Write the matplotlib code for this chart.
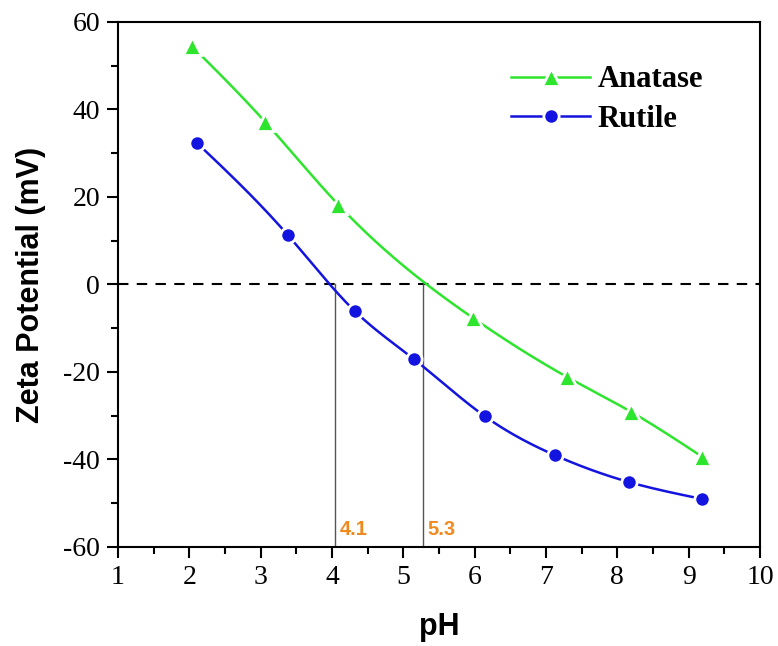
import numpy as np
import matplotlib.pyplot as plt
from matplotlib.ticker import MultipleLocator

plt.rcParams['axes.unicode_minus'] = False

# data
ph_anatase = [2.04, 3.06, 4.09, 5.98, 7.29, 8.19, 9.19]
zeta_anatase = [54.4, 37.2, 18.2, -7.7, -21.1, -29.1, -39.4]
ph_rutile = [2.11, 3.38, 4.32, 5.15, 6.14, 7.12, 8.17, 9.18]
zeta_rutile = [32.3, 11.3, -6.1, -17.1, -30.1, -39.0, -45.2, -49.0]
iep_values = [4.1, 5.3]
iep_lines = [4.04, 5.27]


def smooth(x, y, n=300):
    # natural cubic spline through the measured points
    x = np.asarray(x, float)
    y = np.asarray(y, float)
    k = len(x)
    h = np.diff(x)
    A = np.zeros((k, k))
    b = np.zeros(k)
    A[0, 0] = A[-1, -1] = 1
    for i in range(1, k - 1):
        A[i, i - 1] = h[i - 1]
        A[i, i] = 2 * (h[i - 1] + h[i])
        A[i, i + 1] = h[i]
        b[i] = 6 * ((y[i + 1] - y[i]) / h[i] - (y[i] - y[i - 1]) / h[i - 1])
    m = np.linalg.solve(A, b)
    xs = np.linspace(x[0], x[-1], n)
    j = np.clip(np.searchsorted(x, xs) - 1, 0, k - 2)
    t = xs - x[j]
    hj = h[j]
    a = (m[j + 1] - m[j]) / (6 * hj)
    c = (y[j + 1] - y[j]) / hj - hj * (2 * m[j] + m[j + 1]) / 6
    ys = y[j] + c * t + m[j] / 2 * t ** 2 + a * t ** 3
    return xs, ys


green = '#2EE52E'
blue = '#1414E0'

fig = plt.figure(figsize=(7.78, 6.46), dpi=100)
ax = fig.add_axes([0.1517, 0.1533, 0.8252, 0.8127])

ax.axhline(0, color='black', lw=1.5, ls=(0, (5, 4)), zorder=1)
for xv, lab in zip(iep_lines, iep_values):
    ax.plot([xv, xv], [-60, 0], color='#555555', lw=1, zorder=1)
    ax.text(xv + 0.07, -57.3, f"{lab}", color='#F08A1E', fontsize=14.5,
            fontweight='bold', family='Liberation Sans', va='baseline')

sx, sy = smooth(ph_anatase, zeta_anatase)
ax.plot(sx, sy, color=green, lw=1.8, zorder=2)
ax.plot(ph_anatase, zeta_anatase, ls='none', marker='^', ms=13,
        color=green, mec='white', mew=2, zorder=3)
sx, sy = smooth(ph_rutile, zeta_rutile)
ax.plot(sx, sy, color=blue, lw=1.8, zorder=2)
ax.plot(ph_rutile, zeta_rutile, ls='none', marker='o', ms=11,
        color=blue, mec='white', mew=2, zorder=3)

# legend handles
h1, = ax.plot([], [], color=green, lw=1.8, marker='^', ms=13, mec='white', mew=2)
h2, = ax.plot([], [], color=blue, lw=1.8, marker='o', ms=11, mec='white', mew=2)
ax.legend([h1, h2], ['Anatase', 'Rutile'], loc='upper left', frameon=False,
          numpoints=1, handlelength=2.6, handletextpad=0.25,
          bbox_to_anchor=(0.569, 0.97),
          prop={'family': 'Liberation Serif', 'weight': 'bold', 'size': 22},
          labelspacing=0.35)

ax.set_xlim(1, 10)
ax.set_ylim(-60, 60)
ax.xaxis.set_major_locator(MultipleLocator(1))
ax.xaxis.set_minor_locator(MultipleLocator(0.5))
ax.yaxis.set_major_locator(MultipleLocator(20))
ax.yaxis.set_minor_locator(MultipleLocator(10))
ax.tick_params(which='both', direction='out', width=1.5, top=False, right=False)
ax.tick_params(which='major', length=8, pad=5)
ax.tick_params(which='minor', length=5)
for lab in ax.get_xticklabels() + ax.get_yticklabels():
    lab.set_family('Liberation Serif')
    lab.set_fontsize(20)
for s in ax.spines.values():
    s.set_linewidth(1.5)

ax.set_xlabel('pH', fontsize=22, fontweight='bold', family='Liberation Sans', labelpad=16)
ax.set_ylabel('Zeta Potential (mV)', fontsize=22, fontweight='bold',
              family='Liberation Sans', labelpad=12)

fig.savefig('out.png', dpi=100)
